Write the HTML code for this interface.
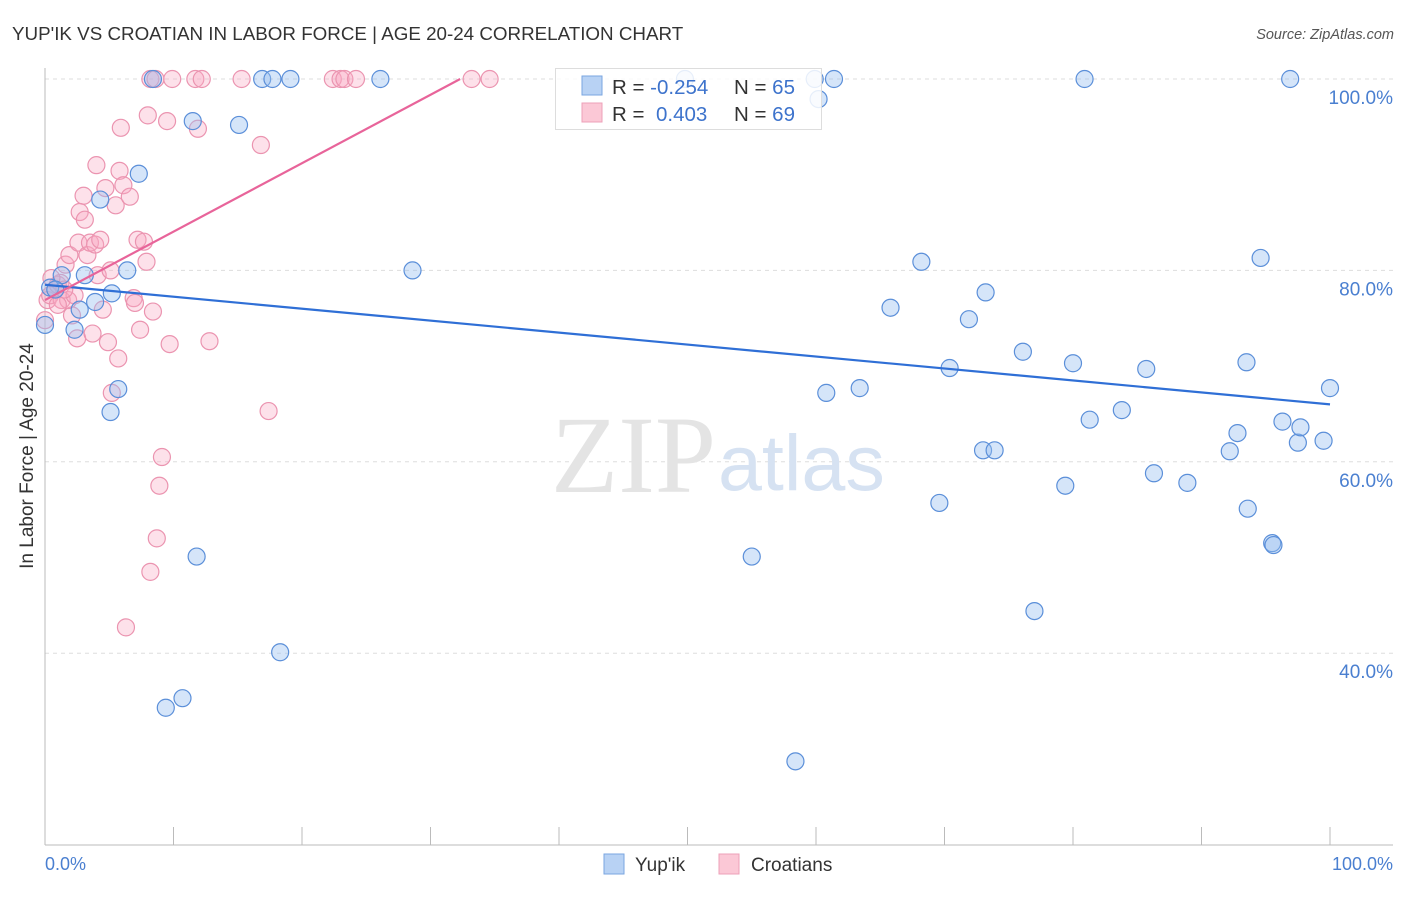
<!DOCTYPE html>
<html><head><meta charset="utf-8"><style>
body{margin:0;background:#fff;font-family:"Liberation Sans",sans-serif}
</style></head><body>
<svg width="1406" height="892" xmlns="http://www.w3.org/2000/svg">
<text x="12" y="40" font-size="18.8" fill="#333">YUP'IK VS CROATIAN IN LABOR FORCE | AGE 20-24 CORRELATION CHART</text>
<text x="1394" y="39" font-size="14.5" font-style="italic" fill="#555" text-anchor="end">Source: ZipAtlas.com</text>
<g id="grid"></g>
<text x="716" y="492" font-size="110" font-family="Liberation Serif,serif" fill="#e4e4e4" text-anchor="end">ZIP</text>
<text x="718" y="490" font-size="79" fill="#d6e2f2">atlas</text>
<g id="pts"></g>
<g id="lines"></g>
<text x="33" y="456" font-size="19" fill="#333" text-anchor="middle" transform="rotate(-90 33 456)">In Labor Force | Age 20-24</text>
<text x="45" y="870" font-size="18" fill="#4a7fd0">0.0%</text>
<text x="1393" y="870" font-size="18" fill="#4a7fd0" text-anchor="end">100.0%</text>
<g>
<rect x="555.5" y="68.5" width="266" height="61" fill="#fff" fill-opacity="0.85" stroke="#ddd"/>
<rect x="582" y="76" width="20" height="19" fill="#b8d2f4" stroke="#7aa6e0"/>
<rect x="582" y="103" width="20" height="19" fill="#fbc8d6" stroke="#eea0b8"/>
<text x="612" y="94" font-size="20.5" fill="#333">R = <tspan fill="#3d73cc">-0.254</tspan><tspan x="734">N = </tspan><tspan fill="#3d73cc">65</tspan></text>
<text x="612" y="121" font-size="20.5" fill="#333">R = <tspan x="656" fill="#3d73cc">0.403</tspan><tspan x="734">N = </tspan><tspan fill="#3d73cc">69</tspan></text>
</g>
<g>
<rect x="604" y="854" width="20" height="20" fill="#b8d2f4" stroke="#7aa6e0"/>
<text x="635" y="871" font-size="19" fill="#333">Yup'ik</text>
<rect x="719" y="854" width="20" height="20" fill="#fbc8d6" stroke="#eea0b8"/>
<text x="751" y="871" font-size="19" fill="#333">Croatians</text>
</g>
</svg>
<script>
const yTicks=[100,80,60,40];
const xTicks=[0,10,20,30,40,50,60,70,80,90,100];
const blueX=[0,1.3,0.4,0.8,3.1,2.7,3.9,5.2,6.4,4.3,7.3,5.1,5.7,2.3,8.4,11.5,15.1,11.8,9.4,10.7,18.3,16.9,17.7,19.1,26.1,28.6,49.8,59.9,61.4,60.2,80.9,96.9,55.0,58.4,60.8,63.4,65.8,68.2,69.6,70.4,71.9,73.0,73.9,73.2,76.1,77.0,79.4,80.0,81.3,83.8,85.7,86.3,88.9,92.2,92.8,93.5,93.6,94.6,95.5,95.6,96.3,97.5,97.7,99.5,100];
const blueY=[74.3,79.5,78.2,78.0,79.5,75.9,76.7,77.6,80.0,87.4,90.1,65.2,67.6,73.8,100,95.6,95.2,50.1,34.3,35.3,40.1,100,100,100,100,80.0,100,100,100,97.9,100,100,50.1,28.7,67.2,67.7,76.1,80.9,55.7,69.8,74.9,61.2,61.2,77.7,71.5,44.4,57.5,70.3,64.4,65.4,69.7,58.8,57.8,61.1,63.0,70.4,55.1,81.3,51.5,51.3,64.2,62.0,63.6,62.2,67.7];
const pinkX=[0.2,0.4,0.8,1.0,1.2,1.6,1.9,1.3,2.1,2.5,2.6,3.0,2.7,3.1,3.3,3.5,3.9,4.0,4.3,3.7,4.1,4.5,4.7,4.9,5.1,5.2,5.5,5.7,5.8,5.9,6.1,6.6,6.9,7.0,7.2,7.4,7.7,7.9,8.0,8.4,8.7,8.9,9.1,9.7,9.5,11.9,12.8,16.8,17.4,6.3,8.2,8.2,8.6,9.9,11.7,12.2,15.3,22.4,23.0,23.3,24.2,33.2,34.6,1.8,2.3,0.5,1.0,0,1.5];
const pinkY=[76.9,77.4,78.0,78.5,78.7,80.6,81.6,76.9,75.3,72.9,82.9,87.8,86.1,85.3,81.6,82.9,82.7,91.0,83.2,73.4,79.5,75.9,88.6,72.5,80.0,67.2,86.8,70.8,90.4,94.9,88.9,87.7,77.1,76.6,83.2,73.8,83.0,80.9,96.2,75.7,52.0,57.5,60.5,72.3,95.6,94.8,72.6,93.1,65.3,42.7,48.5,100,100,100,100,100,100,100,100,100,100,100,100,76.9,77.4,79.2,76.4,74.8,78.0];
const blueLine=[78.5,66.0]; // y at x=0, x=100
const pinkLine=[76.9,0.715]; // intercept, slope
const NS="http://www.w3.org/2000/svg";
const sx=v=>45+v*12.85;
const sy=v=>79+(100-v)*9.57;
function mk(t,a,p){const e=document.createElementNS(NS,t);for(const k in a)e.setAttribute(k,a[k]);p.appendChild(e);return e;}
const grid=document.getElementById('grid');
yTicks.forEach(t=>{
 const l=mk('line',{x1:45,x2:1393,y1:sy(t),y2:sy(t),stroke:'#ddd','stroke-dasharray':'4,4'},grid);
 
 
 const tx=mk('text',{x:1393,y:sy(t)+25,'font-size':19,fill:'#4a7fd0','text-anchor':'end'},grid);
 tx.textContent=t.toFixed(1)+'%';
 
 
});
const ax=mk('line',{x1:45,x2:45,y1:68,y2:845,stroke:'#bbb'},grid);


const bx=mk('line',{x1:45,x2:1393,y1:845,y2:845,stroke:'#bbb'},grid);


xTicks.forEach(t=>{
 const l=mk('line',{x1:sx(t),x2:sx(t),y1:827,y2:845,stroke:'#bbb'},grid);
 
 
});
const pts=document.getElementById('pts');
pinkX.forEach((x,i)=>{
 const c=mk('circle',{cx:sx(x),cy:sy(pinkY[i]),r:8.5,fill:'rgba(248,170,195,0.35)',stroke:'#eb94b0','stroke-width':1.2},pts);
 
 
});
blueX.forEach((x,i)=>{
 const c=mk('circle',{cx:sx(x),cy:sy(blueY[i]),r:8.5,fill:'rgba(150,190,240,0.4)',stroke:'#5b8fd9','stroke-width':1.2},pts);
 
 
});
const lines=document.getElementById('lines');
const bl=mk('line',{x1:sx(0),y1:sy(blueLine[0]),x2:sx(100),y2:sy(blueLine[1]),stroke:'#2f6fd6','stroke-width':2.2},lines);


const xe=(100-pinkLine[0])/pinkLine[1];
const pl=mk('line',{x1:sx(0),y1:sy(pinkLine[0]),x2:sx(xe),y2:sy(100),stroke:'#e8649a','stroke-width':2.2},lines);


</script>
</body></html>
